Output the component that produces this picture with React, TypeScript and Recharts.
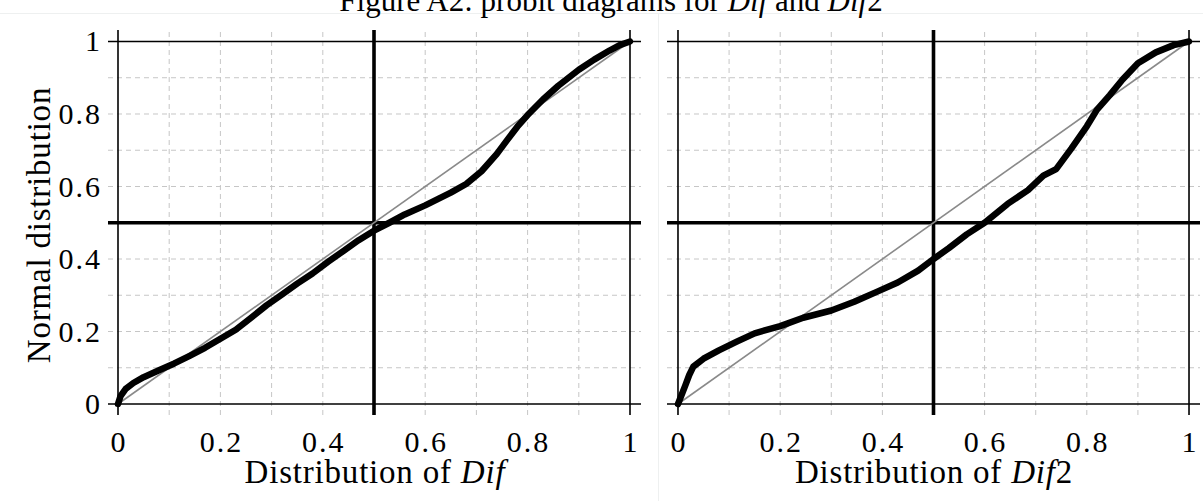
import React from 'react';
import { LineChart, Line, XAxis, YAxis, ReferenceLine } from 'recharts';

// Empirical probit curve for Dif (x: distribution of Dif, y: normal distribution)
const difX = [0, 0.005, 0.015, 0.03, 0.05, 0.08, 0.11, 0.14, 0.17, 0.2, 0.23, 0.26, 0.29, 0.32, 0.35, 0.38, 0.41, 0.44, 0.47, 0.5, 0.53, 0.56, 0.6, 0.65, 0.68, 0.71, 0.74, 0.76, 0.78, 0.8, 0.83, 0.86, 0.9, 0.93, 0.96, 0.98, 1];
const difY = [0, 0.022, 0.042, 0.058, 0.074, 0.093, 0.112, 0.133, 0.155, 0.18, 0.205, 0.238, 0.272, 0.302, 0.332, 0.36, 0.392, 0.422, 0.452, 0.478, 0.5, 0.523, 0.548, 0.583, 0.607, 0.642, 0.69, 0.728, 0.765, 0.797, 0.84, 0.878, 0.922, 0.95, 0.975, 0.99, 1];

// Empirical probit curve for Dif2
const dif2X = [0, 0.007, 0.014, 0.022, 0.03, 0.05, 0.08, 0.115, 0.15, 0.2, 0.245, 0.3, 0.345, 0.39, 0.43, 0.47, 0.5, 0.53, 0.565, 0.6, 0.645, 0.685, 0.715, 0.74, 0.77, 0.8, 0.82, 0.845, 0.87, 0.9, 0.935, 0.97, 1];
const dif2Y = [0, 0.025, 0.05, 0.08, 0.103, 0.125, 0.148, 0.172, 0.195, 0.215, 0.238, 0.258, 0.282, 0.31, 0.335, 0.368, 0.4, 0.43, 0.468, 0.5, 0.552, 0.59, 0.63, 0.648, 0.705, 0.766, 0.812, 0.852, 0.895, 0.94, 0.97, 0.99, 1];

// 45-degree reference line
const diagX = [0, 1];
const diagY = [0, 1];

const tickValues = [0, 0.2, 0.4, 0.6, 0.8, 1];
const tickLabels = ['0', '0.2', '0.4', '0.6', '0.8', '1'];
const gridValues = [0.1, 0.2, 0.3, 0.4, 0.6, 0.7, 0.8, 0.9];
const frameValues = [0, 1];
const crossValues = [0.5];

const toPoints = (xs: number[], ys: number[]) => xs.map((x, i) => ({ x, y: ys[i] }));
const difData = toPoints(difX, difY);
const dif2Data = toPoints(dif2X, dif2Y);
const diagData = toPoints(diagX, diagY);

const FONT = '"Liberation Serif", "Times New Roman", Times, serif';
const Y_DOMAIN: [number, number] = [-0.0303, 1.0317];

const labelFor = (v: number) => {
  const i = tickValues.indexOf(v);
  return i >= 0 ? tickLabels[i] : String(v);
};

const XTick = (props: any) => {
  const { x, y, payload } = props;
  return (
    <text x={x + 1} y={y + 21} textAnchor="middle" fontFamily={FONT} fontSize={30} letterSpacing={2} fill="#000">
      {labelFor(payload.value)}
    </text>
  );
};

const YTick = (props: any) => {
  const { x, y, payload } = props;
  return (
    <text x={x} y={y + 10} textAnchor="end" fontFamily={FONT} fontSize={30} letterSpacing={2} fill="#000">
      {labelFor(payload.value)}
    </text>
  );
};

type PanelProps = {
  width: number;
  margin: { top: number; right: number; bottom: number; left: number };
  xDomain: [number, number];
  data: { x: number; y: number }[];
  showY: boolean;
  yWidth: number;
};

function Panel({ width, margin, xDomain, data, showY, yWidth }: PanelProps) {
  return (
    <LineChart width={width} height={501} margin={margin}>
      <XAxis
        type="number"
        dataKey="x"
        domain={xDomain}
        allowDataOverflow
        ticks={tickValues}
        interval={0}
        axisLine={false}
        tickLine={false}
        tickSize={0}
        tickMargin={16}
        height={40}
        tick={<XTick />}
      />
      <YAxis
        type="number"
        dataKey="y"
        domain={Y_DOMAIN}
        allowDataOverflow
        ticks={tickValues}
        interval={0}
        hide={!showY}
        width={yWidth}
        axisLine={false}
        tickLine={false}
        tickSize={0}
        tickMargin={6}
        tick={<YTick />}
      />
      {gridValues.map((v) => (
        <ReferenceLine key={'gx' + v} x={v} stroke="#c6c6c6" strokeWidth={1} strokeDasharray="5 4" />
      ))}
      {gridValues.map((v) => (
        <ReferenceLine key={'gy' + v} y={v} stroke="#c6c6c6" strokeWidth={1} strokeDasharray="5 4" />
      ))}
      {frameValues.map((v) => (
        <ReferenceLine key={'fx' + v} x={v} stroke="#000" strokeWidth={1.6} />
      ))}
      {frameValues.map((v) => (
        <ReferenceLine key={'fy' + v} y={v} stroke="#000" strokeWidth={1.6} />
      ))}
      {crossValues.map((v) => (
        <ReferenceLine key={'cx' + v} x={v} stroke="#000" strokeWidth={3.6} />
      ))}
      {crossValues.map((v) => (
        <ReferenceLine key={'cy' + v} y={v} stroke="#000" strokeWidth={3.6} />
      ))}
      <Line
        data={diagData}
        dataKey="y"
        type="linear"
        stroke="#8a8a8a"
        strokeWidth={1.6}
        dot={false}
        activeDot={false}
        isAnimationActive={false}
      />
      <Line
        data={data}
        dataKey="y"
        type="linear"
        stroke="#000"
        strokeWidth={6.5}
        strokeLinejoin="round"
        strokeLinecap="round"
        dot={false}
        activeDot={false}
        isAnimationActive={false}
      />
    </LineChart>
  );
}

export default function App() {
  return (
    <div style={{ position: 'absolute', left: 0, top: 0, width: 1203, height: 501, background: '#fff', overflow: 'hidden' }}>
      <svg width={1203} height={501} style={{ position: 'absolute', left: 0, top: 0 }}>
        <line x1={0} y1={13.5} x2={1203} y2={13.5} stroke="#eef0f0" strokeWidth={1} />
        <line x1={658.5} y1={14} x2={658.5} y2={501} stroke="#eef0f0" strokeWidth={1} />
        <text x={611} y={11} textAnchor="middle" fontFamily={FONT} fontSize={31} fill="#000">
          Figure A2: probit diagrams for <tspan fontStyle="italic">Dif</tspan> and <tspan fontStyle="italic">Dif</tspan>2
        </text>
        <text
          transform="translate(50,225) rotate(-90)"
          textAnchor="middle"
          fontFamily={FONT}
          fontSize={33}
          letterSpacing={0.8}
          fill="#000"
        >
          Normal distribution
        </text>
        <text x={375} y={483} textAnchor="middle" fontFamily={FONT} fontSize={33} letterSpacing={0.8} fill="#000">
          Distribution of <tspan fontStyle="italic">Dif</tspan>
        </text>
        <text x={934} y={483} textAnchor="middle" fontFamily={FONT} fontSize={33} letterSpacing={0.8} fill="#000">
          Distribution of <tspan fontStyle="italic">Dif</tspan>2
        </text>
      </svg>
      <div style={{ position: 'absolute', left: 0, top: 0 }}>
        <Panel
          width={660}
          margin={{ top: 30, right: 19, bottom: 46, left: 48 }}
          xDomain={[-0.01953, 1.02148]}
          data={difData}
          showY
          yWidth={60}
        />
      </div>
      <div style={{ position: 'absolute', left: 660, top: 0 }}>
        <Panel
          width={543}
          margin={{ top: 30, right: 3, bottom: 46, left: 7 }}
          xDomain={[-0.0215, 1.0215]}
          data={dif2Data}
          showY={false}
          yWidth={0}
        />
      </div>
    </div>
  );
}
